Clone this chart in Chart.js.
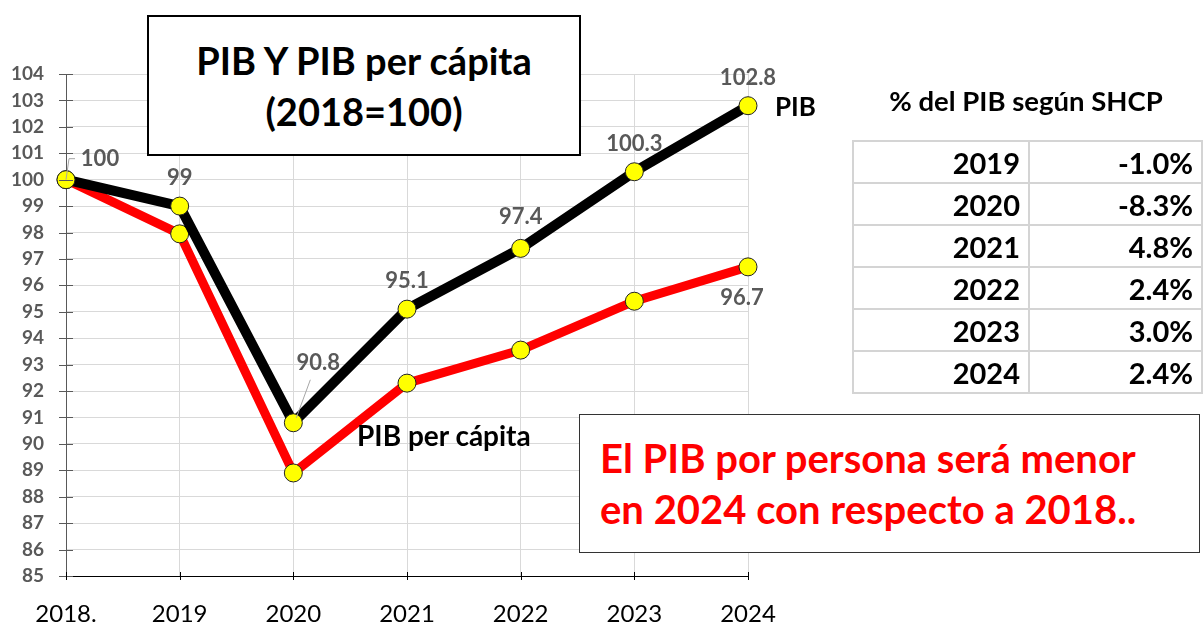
<!DOCTYPE html>
<html lang="es">
<head>
<meta charset="utf-8">
<script src="https://cdn.jsdelivr.net/npm/chart.js@4.4.1/dist/chart.umd.min.js"></script>
<style>
    body { margin: 0; background: #fff; font-family: Lato, "Open Sans", sans-serif; }
    #wrap { position: relative; width: 1203px; height: 623px; overflow: hidden; }
    #grafica { position: absolute; left: 0; top: 0; }
    .caja-titulo {
        position: absolute; left: 147px; top: 15px; width: 430px; height: 137px;
        border: 2px solid #000; background: #fff; box-sizing: content-box;
        font-weight: bold; font-size: 38px; line-height: 51px; text-align: center;
        display: flex; flex-direction: column; justify-content: center;
    }
    .etiqueta { position: absolute; font-weight: bold; color: #000; white-space: nowrap; line-height: 1; }
    .tabla-titulo { position: absolute; left: 852px; width: 348px; top: 86px; text-align: center; font-weight: bold; font-size: 27.5px; line-height: 30px; }
    table { position: absolute; left: 852px; top: 140px; border-collapse: collapse; }
    td { border: 2px solid #d4d4d4; height: 40px; padding: 0 8px; text-align: right; font-weight: bold; font-size: 29px; line-height: 1; }
    td.anio { width: 158px; }
    td.valor { width: 155px; }
    .caja-roja {
        position: absolute; left: 579px; top: 414px; width: 621px; height: 139px;
        border: 1px solid #333; background: #fff; color: #ff0000;
        font-weight: bold; font-size: 40px; line-height: 51px; padding-left: 20px; box-sizing: border-box;
        display: flex; flex-direction: column; justify-content: center;
    }
</style>
</head>
<body>
<div id="wrap">
    <canvas id="grafica" width="1203" height="623"></canvas>
    <div class="caja-titulo"><div>PIB Y PIB per cápita</div><div>(2018=100)</div></div>
    <div class="etiqueta" style="left:775px; top:93px; font-size:26px;">PIB</div>
    <div class="etiqueta" style="left:357px; top:421px; font-size:28px;">PIB per cápita</div>
    <div class="tabla-titulo">% del PIB según SHCP</div>
    <table id="tabla"><tbody></tbody></table>
    <div class="caja-roja"><div>El PIB por persona será menor</div><div>en 2024 con respecto a 2018..</div></div>
</div>
<script>
// Datos
const anios = ['2018.', '2019', '2020', '2021', '2022', '2023', '2024'];
const pib = [100, 99, 90.8, 95.1, 97.4, 100.3, 102.8];
const pibPerCapita = [100, 97.95, 88.9, 92.3, 93.55, 95.4, 96.7];

// Tabla de crecimiento según SHCP
const tablaAnios = ['2019', '2020', '2021', '2022', '2023', '2024'];
const tablaCrecimiento = ['-1.0%', '-8.3%', '4.8%', '2.4%', '3.0%', '2.4%'];

// Construir tabla
const tbody = document.querySelector('#tabla tbody');
tablaAnios.forEach((anio, i) => {
    const row = document.createElement('tr');
    row.innerHTML = `<td class="anio">${anio}</td><td class="valor">${tablaCrecimiento[i]}</td>`;
    tbody.appendChild(row);
});

// Plugin: marcas de los ejes y etiquetas de datos
const extrasPlugin = {
    id: 'extras',
    afterDraw(chart) {
        const ctx = chart.ctx;
        const x = chart.scales.x;
        const y = chart.scales.y;
        ctx.save();

        // marcas cruzadas del eje Y
        ctx.strokeStyle = '#595959';
        ctx.lineWidth = 1;
        y.ticks.forEach(t => {
            const py = Math.round(y.getPixelForValue(t.value)) + 0.5;
            ctx.beginPath();
            ctx.moveTo(x.left - 7, py);
            ctx.lineTo(x.left + 7, py);
            ctx.stroke();
        });
        // marcas del eje X
        ctx.strokeStyle = '#000';
        anios.forEach((a, i) => {
            const px = Math.round(x.getPixelForValue(i)) + 0.5;
            ctx.beginPath();
            ctx.moveTo(px, y.bottom - 4);
            ctx.lineTo(px, y.bottom + 4);
            ctx.stroke();
        });

        // líneas guía de etiquetas
        ctx.strokeStyle = '#a6a6a6';
        const p0x = x.getPixelForValue(0), p0y = y.getPixelForValue(pib[0]);
        ctx.beginPath();
        ctx.moveTo(p0x, p0y);
        ctx.lineTo(p0x + 3, p0y - 21);
        ctx.lineTo(p0x + 9, p0y - 21);
        ctx.stroke();
        const p2x = x.getPixelForValue(2), p2y = y.getPixelForValue(pib[2]);
        ctx.beginPath();
        ctx.moveTo(p2x + 3, p2y - 5);
        ctx.lineTo(p2x + 17, p2y - 43);
        ctx.stroke();

        // etiquetas de datos
        ctx.font = 'bold 22px Lato, sans-serif';
        ctx.fillStyle = '#595959';
        ctx.textBaseline = 'middle';
        ctx.textAlign = 'center';
        const offsets = [[34, -21], [0, -28], [25, -60], [0, -28], [0, -31], [0, -28], [0, -28]];
        pib.forEach((v, i) => {
            const px = x.getPixelForValue(i) + offsets[i][0];
            const py = y.getPixelForValue(v) + offsets[i][1];
            ctx.fillText(String(v), px, py);
        });
        const ult = pibPerCapita.length - 1;
        ctx.fillText(String(pibPerCapita[ult]), x.getPixelForValue(ult) - 6, y.getPixelForValue(pibPerCapita[ult]) + 31);

        ctx.restore();
    }
};

const ctx = document.getElementById('grafica').getContext('2d');
new Chart(ctx, {
    type: 'line',
    data: {
        labels: anios,
        datasets: [
            {
                label: 'PIB per cápita',
                data: pibPerCapita,
                borderColor: '#ff0000',
                borderWidth: 9,
                pointBackgroundColor: '#ffff00',
                pointBorderColor: '#222',
                pointBorderWidth: 1,
                pointRadius: 9,
                tension: 0,
                order: 2
            },
            {
                label: 'PIB',
                data: pib,
                borderColor: '#000000',
                borderWidth: 10,
                pointBackgroundColor: '#ffff00',
                pointBorderColor: '#222',
                pointBorderWidth: 1,
                pointRadius: 9,
                tension: 0,
                order: 1
            }
        ]
    },
    options: {
        responsive: false,
        animation: false,
        layout: { padding: { left: 0, right: 455, top: 74, bottom: 0 } },
        plugins: {
            legend: { display: false },
            tooltip: { enabled: false }
        },
        scales: {
            x: {
                offset: false,
                grid: { color: '#d9d9d9', drawTicks: false },
                border: { color: '#000', width: 1 },
                ticks: {
                    color: '#000',
                    padding: 24,
                    font: { family: 'Lato', size: 24 },
                    maxRotation: 0
                },
                afterFit: scale => { scale.height = 47; }
            },
            y: {
                min: 85,
                max: 104,
                grid: { color: '#d9d9d9', drawTicks: false },
                border: { color: '#595959', width: 1 },
                ticks: {
                    stepSize: 1,
                    color: '#595959',
                    padding: 22,
                    font: { family: 'Lato', size: 19, weight: 'bold' }
                },
                afterFit: scale => { scale.width = 66; }
            }
        }
    },
    plugins: [extrasPlugin]
});
</script>
</body>
</html>
